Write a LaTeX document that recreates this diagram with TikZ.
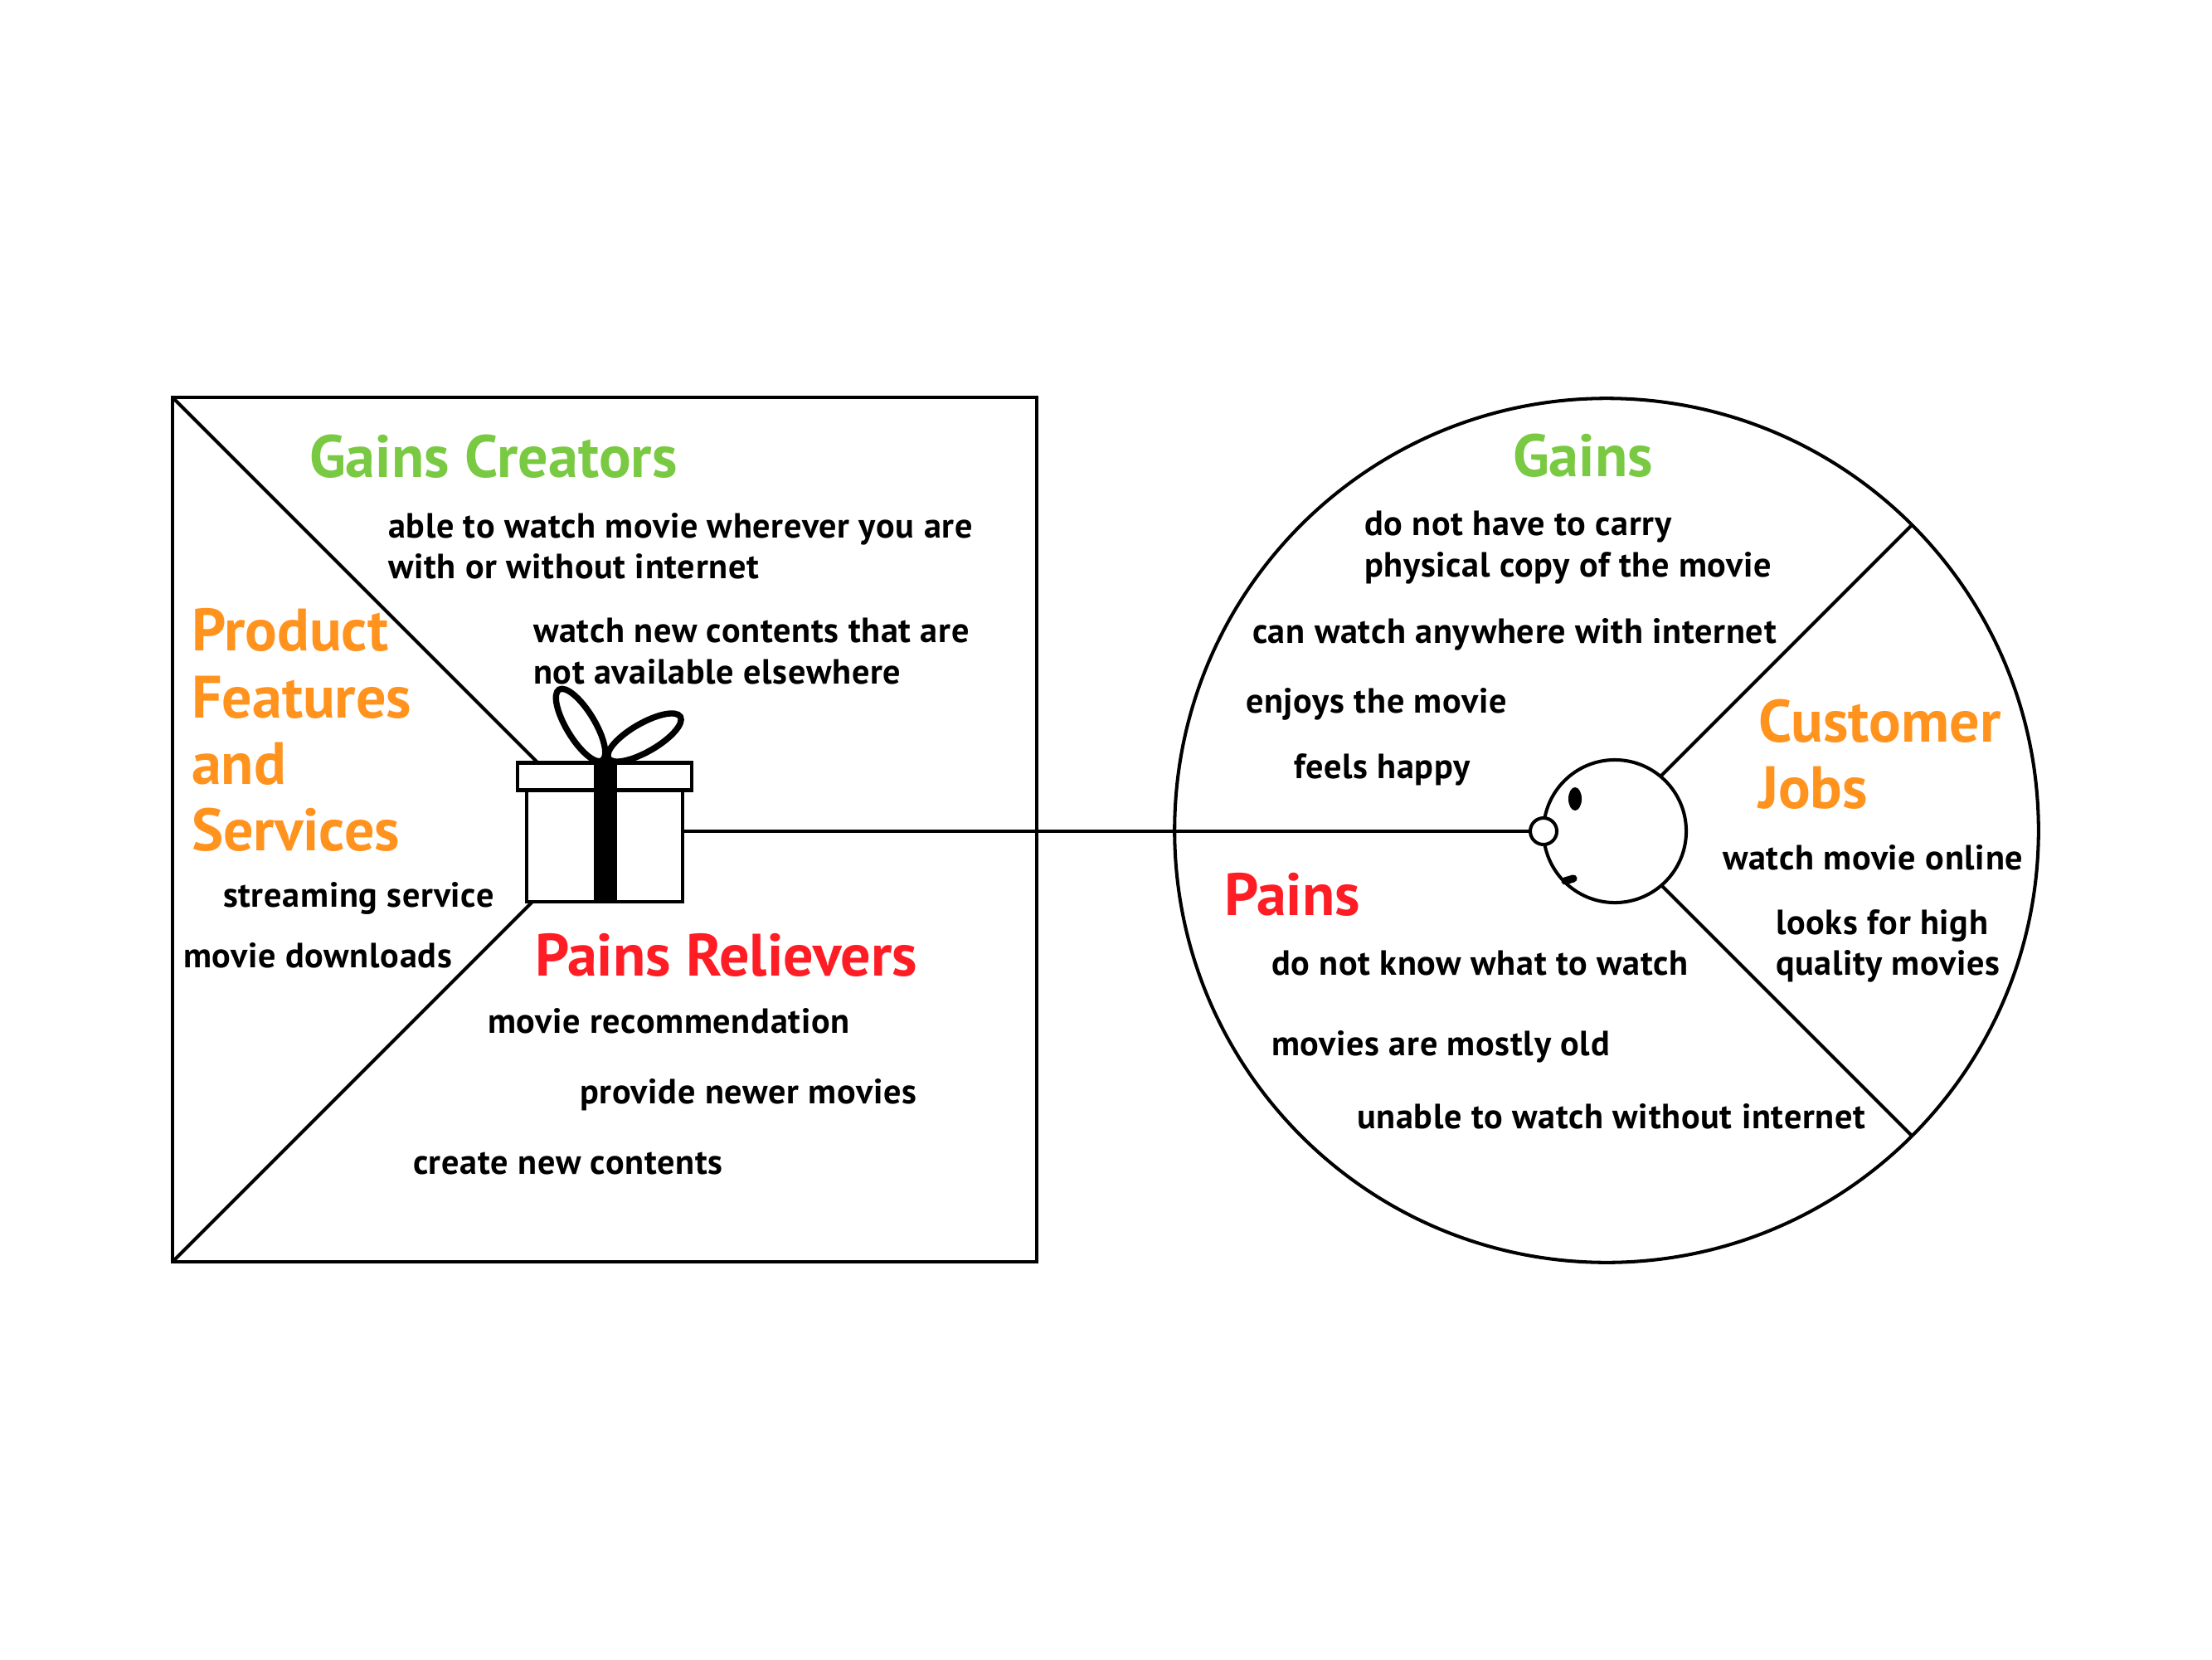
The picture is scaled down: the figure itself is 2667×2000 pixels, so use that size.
\documentclass[tikz,border=0pt]{standalone}
\usepackage{fontspec}
\setmainfont{PT Sans}[BoldFont={PT Sans Bold}]
\usepackage{xcolor}
\usetikzlibrary{positioning, shapes.geometric}
\definecolor{gainclr}{HTML}{7AC943}
\definecolor{jobclr}{HTML}{FF931E}
\definecolor{painclr}{HTML}{FF1D25}

\begin{document}
\begin{tikzpicture}[
        x=0.01cm,y=-0.01cm,
        line width=1.15pt,
        shp/.style={draw,fill=white,inner sep=0pt,outer sep=0pt},
        head/.style={anchor=west,inner sep=0pt,align=left,font=\bfseries\fontsize{20.5}{22.8}\selectfont},
        txt/.style={anchor=west,inner sep=0pt,align=left,font=\bfseries\fontsize{12}{14}\selectfont\addfontfeature{LetterSpace=1.7}},
        loopy/.style={ellipse,draw,line width=2.1pt,inner sep=0pt,minimum width=1.0cm,minimum height=.34cm}
      ]
      \useasboundingbox (0,0) rectangle (2667,2000);
      \node[shp,rectangle,minimum size=10.42cm] (square) at (729,1000) {};
      \node[shp,circle,minimum size=10.41cm] (pie) at (1937,1001) {};
      \draw (square.north west) -- (square.center);
      \draw (square.south west) -- (square.center);
      \draw (pie.center) -- (pie.45);
      \draw (pie.center) -- (pie.-45);
      % gift
      \node[loopy,rotate=-58.8] (loopa) at (700,874) {};
      \node[loopy,rotate=30] (loopb) at (777,889) {};
      \node[shp,minimum width=1.88cm,minimum height=1.34cm] (box) at (729,1020) {};
      \node[shp,minimum width=2.09cm,minimum height=.33cm] (lid) at (729,936) {};
      \node[shp,fill=black,minimum width=.24cm,minimum height=1.70cm] (ribbon) at (730,1002) {};
      % face
      \node[shp,circle,minimum size=1.72cm] (face) at (1947,1002) {};
      \node[shp,circle,minimum size=.32cm] (nose) at (1861,1002) {};
      \node[ellipse,fill=black,inner sep=0pt,minimum width=.16cm,minimum height=.28cm] (eye) at (1899,963) {};
      \coordinate (mouthl) at (1887,1062);
      \coordinate (mouthr) at (1897,1059);
      \draw[line width=2.6pt,line cap=round] (mouthl) -- (mouthr);
      \draw (box.east |- nose) -- (nose.west);
      % headings
      \foreach\x/\y/\c/\t in {371/550/gainclr/Gains Creators,
        229/880/jobclr/Product\\Features\\and\\Services,
        643/1151/painclr/Pains Relievers,
        1822/549/gainclr/Gains,
        2118/909/jobclr/Customer\\Jobs,
        1474/1078/painclr/Pains}{
        \node[head,text=\c] at (\x,\y) {\t};
      }
      % items
      \foreach\x/\y/\t in {466/658/able to watch movie wherever you are\\with or without internet,
        641/785/watch new contents that are\\not available elsewhere,
        267/1083/streaming service,
        219/1152/movie downloads,
        586/1231/movie recommendation,
        697/1320/provide newer movies,
        496/1402/create new contents,
        1643/660/do not have to carry\\physical copy of the movie,
        1508/765/can watch anywhere with internet,
        1500/849/enjoys the movie,
        1558/928/feels happy,
        2075/1034/watch movie online,
        2139/1140/looks for high\\quality movies,
        1531/1161/do not know what to watch,
        1531/1262/movies are mostly old,
        1634/1346/unable to watch without internet}{
        \node[txt] at (\x,\y) {\t};
      }
    \end{tikzpicture}
\end{document}
